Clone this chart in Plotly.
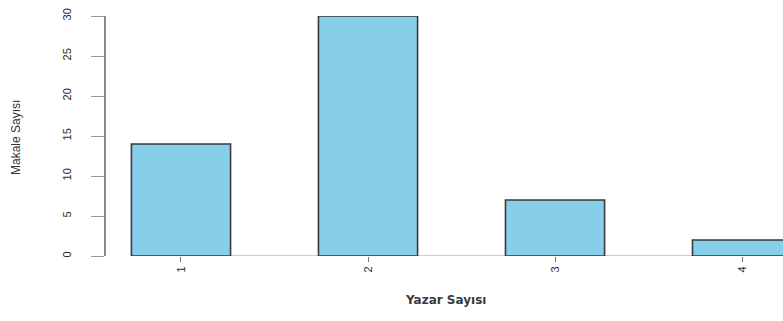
import plotly.graph_objects as go

# Number of authors per article vs. article count
yazar_sayisi = ["1", "2", "3", "4"]
makale_sayisi = [14, 30, 7, 2]
y_ticks = [0, 5, 10, 15, 20, 25, 30]

positions = [1, 2, 3, 4]

fig = go.Figure()
fig.add_trace(go.Bar(
    x=positions,
    y=makale_sayisi,
    width=0.53,
    marker=dict(color="#87CEEB", line=dict(color="#3a3a3a", width=1.6)),
    hoverinfo="skip",
))

# baseline under the bars
fig.add_shape(type="line", xref="x", yref="y", x0=0.735, x1=4.4, y0=0, y1=0,
              line=dict(color="#9a9a9a", width=1.2), layer="below")

fig.update_layout(
    width=783, height=321,
    margin=dict(l=106, r=0, t=16, b=65),
    paper_bgcolor="white", plot_bgcolor="white",
    showlegend=False,
    font=dict(family="Liberation Sans, Arial, sans-serif", color="#333333", size=10),
    xaxis=dict(
        range=[0.599, 4.219],
        tickmode="array", tickvals=positions, ticktext=yazar_sayisi,
        tickangle=-90, ticks="outside", ticklen=5, tickcolor="#777777",
        showgrid=False, zeroline=False, showline=False,
        tickfont=dict(size=11, color="#2a2a2a"),
        fixedrange=True,
    ),
    yaxis=dict(
        range=[0, 30],
        tickmode="array", tickvals=y_ticks, ticktext=[str(v) for v in y_ticks],
        tickangle=-90, ticks="outside", ticklen=13, tickcolor="#999999",
        showline=True, linecolor="#888888", linewidth=1.5,
        showgrid=False, zeroline=False,
        ticklabelstandoff=16,
        tickfont=dict(size=11, color="#2a2a2a"),
        fixedrange=True,
    ),
    annotations=[
        dict(text="Makale Sayısı", xref="paper", yref="paper", x=0, y=0.5,
             xshift=-99, yshift=-2, textangle=-90, showarrow=False,
             font=dict(family="Liberation Sans Narrow, Liberation Sans, sans-serif",
                       size=12, color="#333333")),
        dict(text="<b>Yazar Sayısı</b>", xref="paper", yref="paper", x=0.502, y=0,
             yshift=-44, yanchor="middle", showarrow=False,
             font=dict(family="DejaVu Sans, sans-serif", size=12, color="#3a3a3a")),
    ],
)

fig.write_html("out.html")
